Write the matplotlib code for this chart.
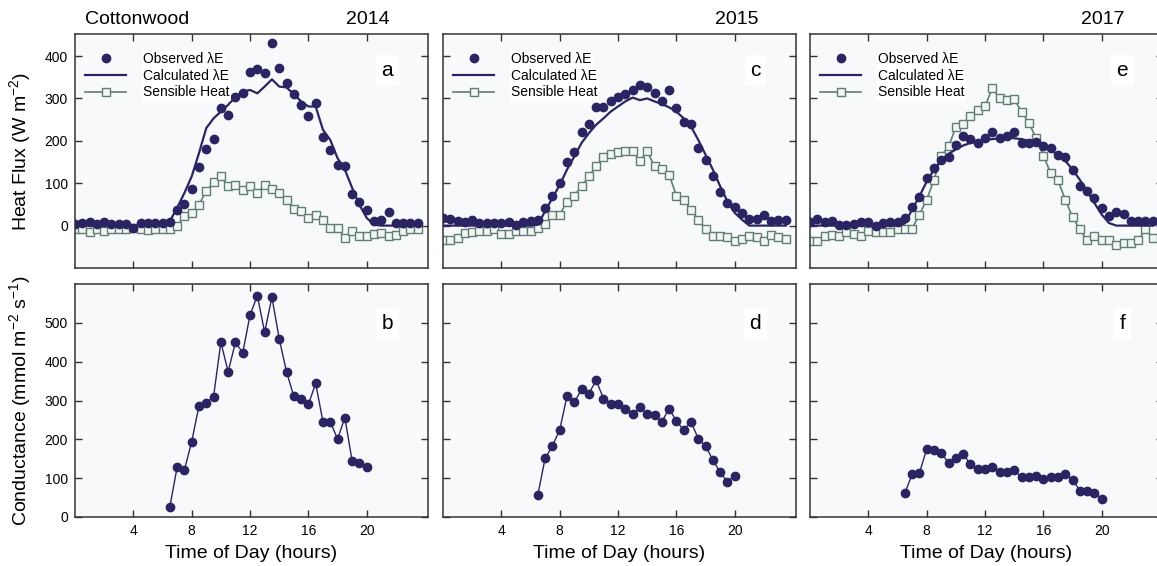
import numpy as np
import matplotlib
matplotlib.use("Agg")
import matplotlib.pyplot as plt
from matplotlib.lines import Line2D

plt.rcParams['font.family'] = ['Liberation Sans', 'DejaVu Sans']

# ---------------- data ----------------
hours = np.arange(0, 24, 0.5)          # half-hourly, 0 .. 23.5
cond_hours = np.arange(6.5, 20.01, 0.5)  # conductance, 6.5 .. 20

years = ["2014", "2015", "2017"]
letters_top = ["a", "c", "e"]
letters_bot = ["b", "d", "f"]

obs_2014 = [4, 5, 8, 3, 9, 3, 3, 4, -5, 6, 5, 5, 5, 8,
            38, 52, 87, 138, 180, 205, 278, 261, 303, 312, 362, 370, 360, 430,
            371, 337, 310, 285, 259, 290, 210, 179, 143, 140, 75, 56, 37, 12,
            13, 31, 6, 6, 5, 6]
calc_2014 = [0, 0, 0, 0, 0, 0, 0, 0, 0, 0, 0, 0, 0, 10,
             42, 77, 116, 171, 230, 253, 269, 285, 304, 316, 320, 312, 328, 345,
             328, 326, 310, 293, 281, 281, 226, 202, 159, 132, 89, 49, 18, 2,
             0, 0, 0, 0, 0, 0]
sens_2014 = [-7, -9, -16, -9, -13, -9, -9, -8, -5, -7, -10, -7, -7, -7,
             0, 22, 30, 49, 82, 102, 116, 93, 96, 85, 93, 77, 96, 86,
             77, 61, 40, 34, 18, 24, 14, -5, -5, -29, -12, -24, -25, -20,
             -17, -25, -21, -13, -9, -9]

obs_2015 = [18, 16, 10, 9, 14, 6, 6, 6, 6, 8, 2, 9, 10, 14,
            42, 71, 100, 151, 173, 220, 239, 279, 279, 293, 303, 311, 320, 332,
            326, 314, 295, 320, 278, 245, 239, 183, 154, 118, 79, 53, 43, 30,
            16, 16, 26, 10, 14, 14]
calc_2015 = [0, 0, 0, 0, 0, 0, 0, 0, 0, 0, 0, 0, 0, 2,
             34, 65, 96, 132, 163, 195, 218, 238, 253, 269, 281, 293, 302, 296,
             300, 293, 287, 279, 269, 253, 234, 202, 167, 132, 93, 57, 30, 14,
             0, 0, 0, 0, 0, 0]
sens_2015 = [-33, -33, -29, -17, -15, -13, -13, -8, -19, -19, -13, -13, -13, -5,
             4, 24, 26, 56, 71, 93, 116, 140, 162, 169, 173, 177, 175, 153,
             175, 140, 133, 120, 71, 60, 38, 14, -7, -25, -25, -27, -37, -31,
             -25, -27, -37, -23, -27, -31]

obs_2017 = [8, 16, 9, 10, 2, 2, 4, 8, 8, 0, 5, 9, 8, 18,
            45, 67, 112, 137, 155, 161, 191, 212, 204, 196, 206, 220, 206, 212,
            222, 195, 195, 198, 187, 183, 167, 161, 132, 93, 82, 64, 42, 22,
            31, 27, 10, 10, 10, 10]
calc_2017 = [0, 0, 0, 0, 0, 0, 0, 0, 0, 0, 0, 0, 0, 5,
             38, 69, 104, 132, 155, 169, 180, 189, 195, 198, 202, 204, 206, 209,
             206, 204, 200, 195, 188, 178, 167, 153, 132, 108, 81, 53, 26, 6,
             0, 0, 0, 0, 0, 0]
sens_2017 = [-37, -37, -25, -21, -24, -16, -20, -24, -13, -16, -15, -16, -9, -8,
             -7, 26, 61, 108, 165, 187, 232, 240, 259, 273, 282, 324, 300, 296,
             298, 269, 243, 206, 165, 124, 107, 61, 20, -9, -35, -25, -33, -35,
             -45, -41, -41, -35, -9, -29]

cond_2014 = [26, 128, 121, 194, 286, 294, 310, 450, 374, 450, 423, 520, 570, 476,
             566, 459, 374, 311, 303, 290, 344, 245, 245, 201, 256, 144, 140, 128]
cond_2015 = [57, 151, 183, 224, 311, 295, 329, 318, 352, 305, 292, 290, 279, 264,
             282, 264, 262, 245, 279, 247, 224, 245, 202, 183, 147, 115, 91, 106]
cond_2017 = [61, 110, 113, 175, 173, 164, 140, 151, 162, 136, 123, 124, 130, 115,
             115, 120, 102, 102, 105, 97, 104, 102, 111, 96, 68, 68, 63, 47]

obs = [obs_2014, obs_2015, obs_2017]
calc = [calc_2014, calc_2015, calc_2017]
sens = [sens_2014, sens_2015, sens_2017]
cond = [cond_2014, cond_2015, cond_2017]

xticks = [4, 8, 12, 16, 20]
flux_ticks = [0, 100, 200, 300, 400]
cond_ticks = [0, 100, 200, 300, 400, 500]

# ---------------- style ----------------
NAVY = "#2b2462"
GREEN = "#5f7e75"
BG = "#f8f9fb"
SPINE = "#333333"
SQFACE = "#f3f6f3"

W, H = 1157, 566
fig = plt.figure(figsize=(W / 100, H / 100), dpi=100)

lefts = [75, 443, 810]
aw = 353
top_y0, top_y1 = 34, 268
bot_y0, bot_y1 = 284, 517


def fig_rect(x0, y0, w, y1):
    return [x0 / W, 1 - y1 / H, w / W, (y1 - y0) / H]


def style(ax):
    ax.set_facecolor(BG)
    for s in ax.spines.values():
        s.set_color(SPINE)
        s.set_linewidth(1.1)
    ax.tick_params(direction="in", length=5, width=1.0, color=SPINE,
                   top=True, right=True, labelsize=10, pad=5)
    ax.set_xlim(0, 24.2)
    ax.set_xticks(xticks)


for i in range(3):
    # ---- heat flux ----
    ax = fig.add_axes(fig_rect(lefts[i], top_y0, aw, top_y1))
    style(ax)
    ax.set_ylim(-100, 452)
    ax.set_yticks(flux_ticks)
    ax.plot(hours, sens[i], color=GREEN, lw=1.2, marker="s", ms=5.2,
            mfc=SQFACE, mec=GREEN, mew=1.0, zorder=2)
    ax.plot(hours, calc[i], color=NAVY, lw=1.6, zorder=3)
    ax.plot(hours, obs[i], ls="none", marker="o", ms=6.0, color=NAVY,
            mec=NAVY, zorder=4)
    ax.tick_params(labelbottom=False)
    if i > 0:
        ax.tick_params(labelleft=False)
    else:
        ax.set_ylabel("Heat Flux (W m$^{\\mathregular{-2}}$)", fontsize=14,
                      labelpad=8)
    handles = [
        Line2D([], [], ls="none", marker="o", ms=6.0, color=NAVY),
        Line2D([], [], color=NAVY, lw=1.6),
        Line2D([], [], color=GREEN, lw=1.2, marker="s", ms=5.2,
               mfc=SQFACE, mec=GREEN),
    ]
    leg = ax.legend(handles,
                    ["Observed \u03bbE", "Calculated \u03bbE", "Sensible Heat"],
                    loc="upper left", bbox_to_anchor=(0.0, 0.965),
                    frameon=False, fontsize=10, handlelength=3.0,
                    handletextpad=1.2, labelspacing=0.2, borderaxespad=0.3)
    for t in leg.get_texts():
        t.set_bbox(dict(facecolor="white", edgecolor="none", pad=1.0))
    ax.text(0.885, 0.845, letters_top[i], transform=ax.transAxes,
            fontsize=15, ha="center", va="center",
            bbox=dict(facecolor="white", edgecolor="none", pad=4))

    # ---- conductance ----
    bx = fig.add_axes(fig_rect(lefts[i], bot_y0, aw, bot_y1))
    style(bx)
    bx.set_ylim(0, 600)
    bx.set_yticks(cond_ticks)
    bx.plot(cond_hours, cond[i], color=NAVY, lw=1.0, marker="o", ms=6.0,
            mec=NAVY, mfc=NAVY)
    if i > 0:
        bx.tick_params(labelleft=False)
    else:
        bx.set_ylabel("Conductance (mmol m$^{\\mathregular{-2}}$ s$^{\\mathregular{-1}}$)",
                      fontsize=14, labelpad=8)
    bx.set_xlabel("Time of Day (hours)", fontsize=14, labelpad=5)
    bx.text(0.885, 0.83, letters_bot[i], transform=bx.transAxes,
            fontsize=15, ha="center", va="center",
            bbox=dict(facecolor="white", edgecolor="none", pad=4))

# ---- titles ----
fig.text(85 / W, 1 - 20 / H, "Cottonwood", fontsize=14, ha="left", va="center")
title_right = [390, 758, 1124]
for yr, xr in zip(years, title_right):
    fig.text(xr / W, 1 - 20 / H, yr, fontsize=14, ha="right", va="center")

fig.savefig("out.png", dpi=100, facecolor="white")
